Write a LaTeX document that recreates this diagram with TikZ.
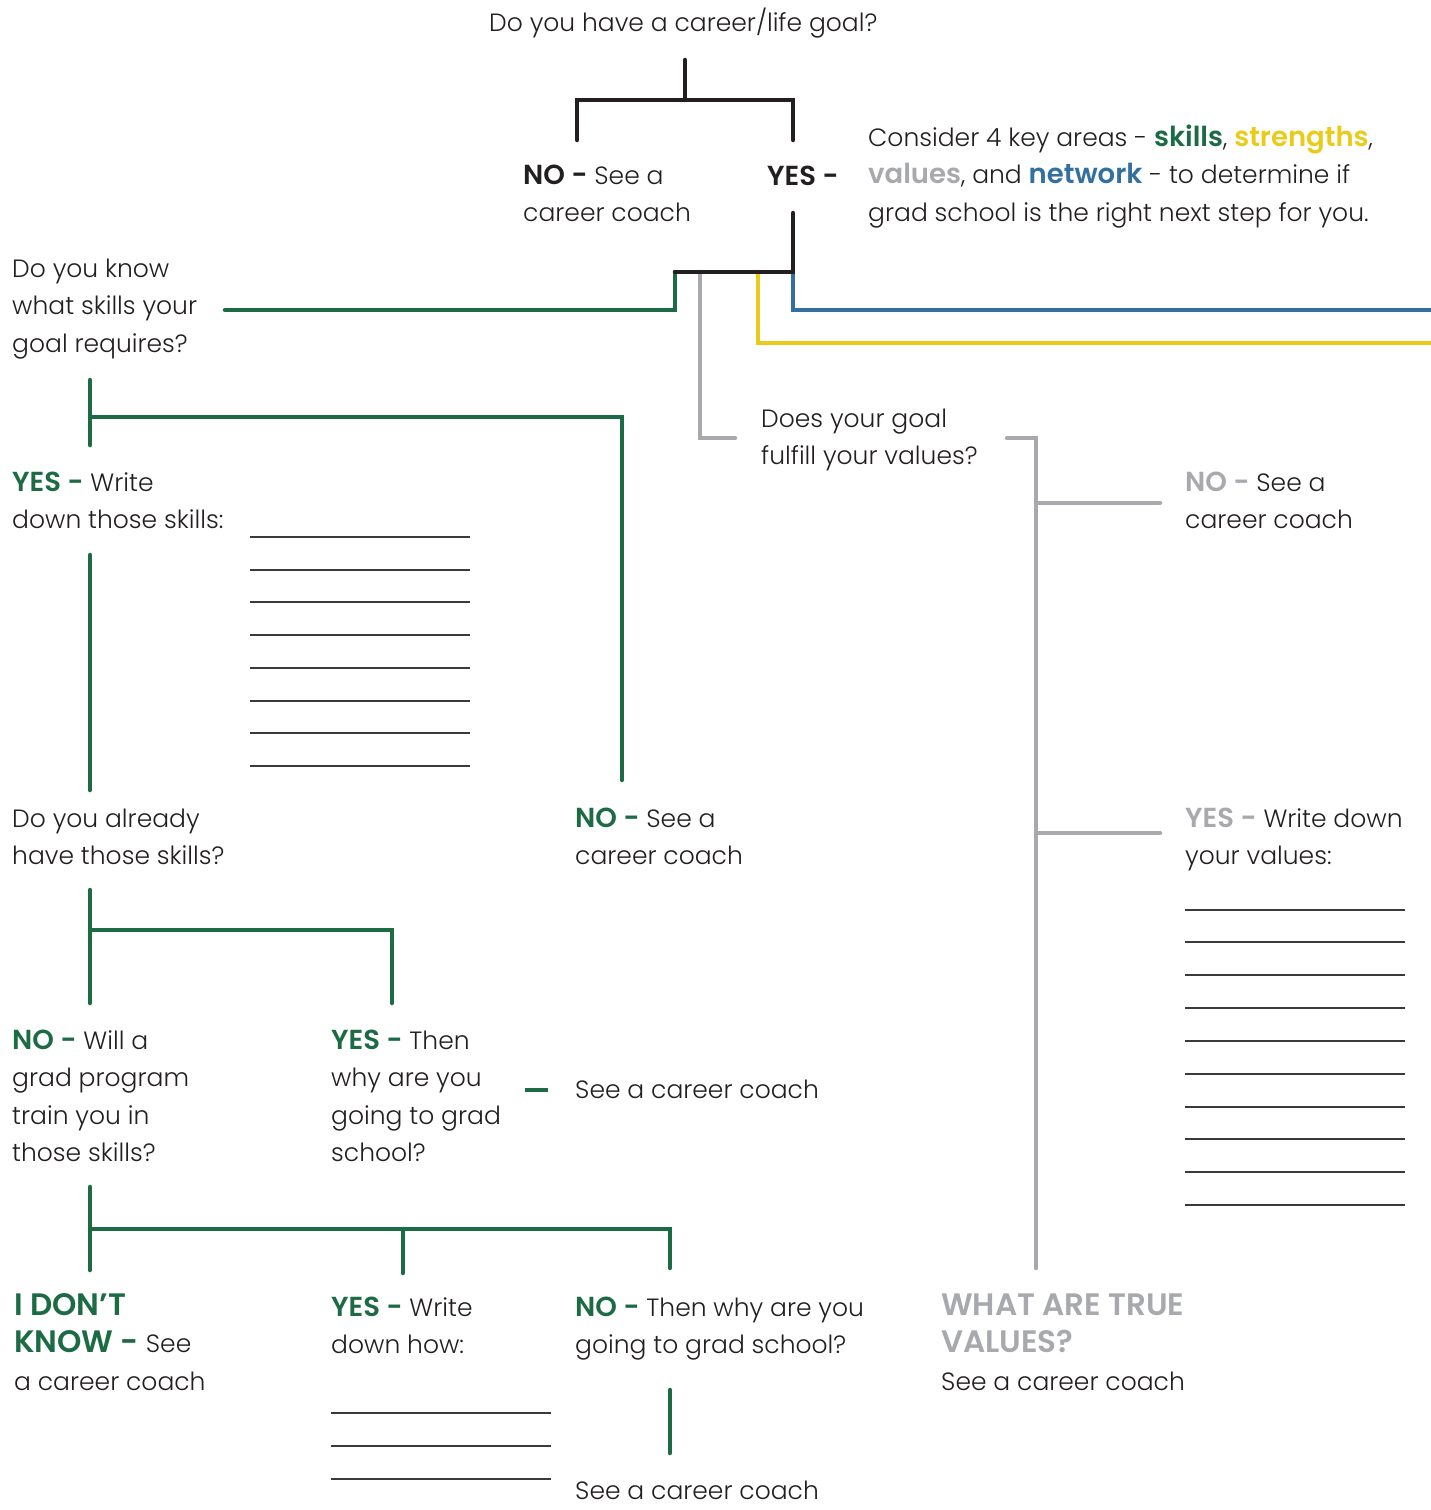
\documentclass[tikz,border=0pt]{standalone}
\usepackage{fontspec}
\setmainfont{Poppins}[UprightFont=* Light, BoldFont=* SemiBold]
\definecolor{ink}{HTML}{231F20}
\definecolor{grn}{HTML}{1C6B45}
\definecolor{ylw}{HTML}{EACB1A}
\definecolor{blu}{HTML}{33709F}
\definecolor{gry}{HTML}{A8A9AD}
\definecolor{rule}{HTML}{3A3A3A}
\tikzset{
  txt/.style={anchor=north west, inner sep=0pt, align=left, text=ink,
    font=\fontsize{25}{37.5}\selectfont},
  conn/.style={line width=4.5pt, line cap=round, line join=miter},
  blank/.style={line width=1.4pt, draw=rule},
}
\newcommand\bk[2]{{\fontsize{27.5}{37.5}\selectfont\bfseries\color{#1}#2}}
\newcommand\hd[2]{{\fontsize{31}{37.5}\selectfont\bfseries\color{#1}#2}}
\begin{document}
\begin{tikzpicture}[x=1pt,y=-1pt]
\useasboundingbox[fill=white] (0,0) rectangle (1431,1510);

% ---------- text nodes ----------
\node[txt] (q1) at (489,31-26.25) {\strut Do you have a career/life goal?};
\node[txt] (no1) at (523,184-26.25) {\strut\bk{ink}{NO -} See a\\career coach};
\node[txt] (yes1) at (767,185-26.25) {\strut\bk{ink}{YES -}};
\node[txt] (cons) at (868,146-26.25) {\strut Consider 4 key areas - \bk{grn}{skills}, \bk{ylw}{strengths},\\
  \bk{gry}{values}, and \bk{blu}{network} - to determine if\\
  grad school is the right next step for you.};
\node[txt] (q2) at (12,277-26.25) {\strut Do you know\\what skills your\\goal requires?};
\node[txt] (q3) at (761,427-26.25) {\strut Does your goal\\fulfill your values?};
\node[txt] (vno) at (1185,491-26.25) {\strut\bk{gry}{NO -} See a\\career coach};
\node[txt] (syes) at (12,491-26.25) {\strut\bk{grn}{YES -} Write\\down those skills:};
\node[txt] (q4) at (12,827-26.25) {\strut Do you already\\have those skills?};
\node[txt] (sno) at (575,827-26.25) {\strut\bk{grn}{NO -} See a\\career coach};
\node[txt] (vyes) at (1185,827-26.25) {\strut\bk{gry}{YES -} Write down\\your values:};
\node[txt] (q5) at (12,1049-26.25) {\strut\bk{grn}{NO -} Will a\\grad program\\train you in\\those skills?};
\node[txt] (hyes) at (331,1049-26.25) {\strut\bk{grn}{YES -} Then\\why are you\\going to grad\\school?};
\node[txt] (cc1) at (575,1098-26.25) {\strut See a career coach};
\node[txt] (idk) at (14,1315-26.25) {\strut\hd{grn}{I DON'T}\\\hd{grn}{KNOW -} See\\a career coach};
\node[txt] (tyes) at (331,1316-26.25) {\strut\bk{grn}{YES -} Write\\down how:};
\node[txt] (tno) at (575,1316-26.25) {\strut\bk{grn}{NO -} Then why are you\\going to grad school?};
\node[txt] (true) at (941,1315-26.25) {\strut\hd{gry}{WHAT ARE TRUE}\\\hd{gry}{VALUES?}\\See a career coach};
\node[txt] (cc2) at (575,1499-26.25) {\strut See a career coach};

% ---------- coordinates ----------
\coordinate (a0) at (685,60);  \coordinate (a1) at (685,100);
\coordinate (aL) at (577,100); \coordinate (aLe) at (577,140);
\coordinate (aR) at (793,100); \coordinate (aRe) at (793,140);
\coordinate (b0) at (793,213); \coordinate (b1) at (793,272);
\coordinate (bL) at (675,272);
\coordinate (gS) at (675,310); \coordinate (gE) at (225,310);
\coordinate (vT) at (700,272); \coordinate (vC) at (700,438); \coordinate (vE) at (735,438);
\coordinate (yT) at (758,272); \coordinate (yC) at (758,343); \coordinate (yE) at (1431,343);
\coordinate (nC) at (793,310); \coordinate (nE) at (1431,310);
\coordinate (w0) at (1007,438); \coordinate (w1) at (1036,438); \coordinate (w2) at (1036,1268);
\coordinate (wa) at (1036,503); \coordinate (wae) at (1160,503);
\coordinate (wb) at (1036,833); \coordinate (wbe) at (1160,833);
\coordinate (s0) at (90,380); \coordinate (s1) at (90,445);
\coordinate (sH) at (90,417); \coordinate (sR) at (622,417); \coordinate (sRe) at (622,780);
\coordinate (s2) at (90,555); \coordinate (s3) at (90,790);
\coordinate (h0) at (90,890); \coordinate (h1) at (90,1003);
\coordinate (hH) at (90,930); \coordinate (hR) at (392,930); \coordinate (hRe) at (392,1003);
\coordinate (d0) at (525,1090); \coordinate (d1) at (548,1090);
\coordinate (t0) at (90,1187); \coordinate (t1) at (90,1270);
\coordinate (tH) at (90,1229); \coordinate (tR) at (670,1229);
\coordinate (tM) at (403,1229); \coordinate (tMe) at (403,1273);
\coordinate (tRe) at (670,1268);
\coordinate (u0) at (670,1390); \coordinate (u1) at (670,1453);

% ---------- connectors ----------
\draw[conn, ink] (a0) -- (a1);
\draw[conn, ink] (aLe) -- (aL) -- (aR) -- (aRe);
\draw[conn, gry] (vT) -- (vC) -- (vE);
\draw[conn, ylw] (yT) -- (yC) -- (yE);
\draw[conn, blu] (b1) -- (nC) -- (nE);
\draw[conn, grn] (bL) -- (gS) -- (gE);
\draw[conn, ink] (b0) -- (b1) -- (bL);
\draw[conn, gry] (w0) -- (w1) -- (w2);
\draw[conn, gry] (wa) -- (wae);
\draw[conn, gry] (wb) -- (wbe);
\draw[conn, grn] (s0) -- (s1);
\draw[conn, grn] (sH) -- (sR) -- (sRe);
\draw[conn, grn] (s2) -- (s3);
\draw[conn, grn] (h0) -- (h1);
\draw[conn, grn] (hH) -- (hR) -- (hRe);
\draw[conn, grn, line cap=butt] (d0) -- (d1);
\draw[conn, grn] (t0) -- (t1);
\draw[conn, grn] (tH) -- (tR) -- (tRe);
\draw[conn, grn] (tM) -- (tMe);
\draw[conn, grn] (u0) -- (u1);

% ---------- blank lines ----------
\foreach \y in {537,570,602,635,668,701,733,766}
  \draw[blank] (250,\y) -- (470,\y);
\foreach \y in {1413,1446,1479}
  \draw[blank] (331,\y) -- (551,\y);
\foreach \y in {910,942,975,1008,1041,1074,1107,1139,1172,1205}
  \draw[blank] (1185,\y) -- (1405,\y);
\end{tikzpicture}
\end{document}
